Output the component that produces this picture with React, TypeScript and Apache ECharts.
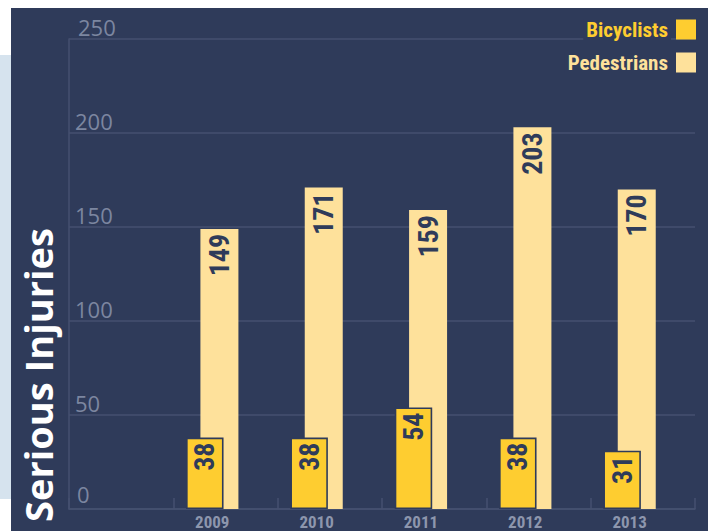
import React, { useEffect, useRef } from "react";
import * as echarts from "echarts";

const categories: string[] = ["", "2009", "2010", "2011", "2012", "2013"];
const bicyclists: (number | null)[] = [null, 38, 38, 54, 38, 31];
const pedestrians: (number | null)[] = [null, 149, 171, 159, 203, 170];
const yMin = 0;
const yMax = 250;
const yInterval = 50;

const NAVY = "#2f3b5a";
const GRIDC = "#465170";
const BIKE = "#fecd30";
const PED = "#fee19b";
const COND = "'Roboto Condensed', 'DejaVu Sans Condensed', sans-serif";

export default function App() {
  const ref = useRef<HTMLDivElement>(null);
  useEffect(() => {
    document.body.style.margin = "0";
    if (!ref.current) return;
    const chart = echarts.init(ref.current, undefined, { renderer: "svg" });
    const barLabel = {
      show: true,
      position: "insideTop",
      distance: 5,
      rotate: 90,
      align: "right",
      verticalAlign: "middle",
      color: NAVY,
      fontFamily: COND,
      fontWeight: "bold",
      fontSize: 28,
    };
    const yl = { color: "#7c86a0", fontFamily: "'Open Sans', sans-serif", fontSize: 22 };
    chart.setOption({
      animation: false,
      backgroundColor: "#ffffff",
      graphic: [
        { type: "rect", z: -10, shape: { x: 0, y: 55, width: 11, height: 444 }, style: { fill: "#d6e3ee" } },
        { type: "rect", z: -10, shape: { x: 11, y: 8, width: 697, height: 523 }, style: { fill: NAVY } },
        {
          type: "text",
          z: 10,
          x: 38,
          y: 375,
          rotation: Math.PI / 2,
          style: {
            text: "Serious Injuries",
            fill: "#ffffff",
            font: "bold 38px 'Open Sans', sans-serif",
            textAlign: "center",
            textVerticalAlign: "middle",
          },
        },
      ],
      legend: {
        orient: "vertical",
        right: 18,
        top: 19,
        padding: 0,
        align: "right",
        itemWidth: 20,
        itemHeight: 20,
        itemGap: 12,
        icon: "rect",
        itemStyle: { borderWidth: 0 },
        textStyle: {
          fontFamily: COND,
          fontWeight: "bold",
          fontSize: 21,
          backgroundColor: NAVY,
          padding: [0, 3, 0, 3],
        },
        data: [
          { name: "Bicyclists", textStyle: { color: BIKE } },
          { name: "Pedestrians", textStyle: { color: PED } },
        ],
      },
      grid: [
        { left: 69, top: 39, width: 626, height: 470 },
        { left: 55.73, top: 39, width: 626, height: 470 },
      ],
      xAxis: [
        {
          type: "category",
          gridIndex: 0,
          data: categories,
          boundaryGap: true,
          axisLine: { show: true, lineStyle: { color: GRIDC, width: 1.5 } },
          axisTick: { show: true, inside: true, length: 11, interval: 0, lineStyle: { color: GRIDC, width: 1.5 } },
          axisLabel: { show: false },
          splitLine: { show: false },
        },
        {
          type: "category",
          gridIndex: 1,
          data: categories,
          boundaryGap: true,
          axisLine: { show: false },
          axisTick: { show: false },
          splitLine: { show: false },
          axisLabel: {
            interval: 0,
            margin: 4,
            color: "#8d96ad",
            fontFamily: COND,
            fontWeight: "bold",
            fontSize: 17,
          },
        },
      ],
      yAxis: [
        {
          type: "value",
          gridIndex: 0,
          min: yMin,
          max: yMax,
          interval: yInterval,
          axisLine: { show: true, lineStyle: { color: GRIDC, width: 1.5 } },
          axisTick: { show: false },
          splitLine: { show: true, lineStyle: { color: GRIDC, width: 1.5 } },
          axisLabel: {
            inside: true,
            margin: 6,
            verticalAlign: "bottom",
            ...yl,
            lineHeight: 22,
            formatter: (v: number) => (v === 0 ? `{z|${v}}` : v === yMax ? `{t|${v}}` : `{n|${v}}`),
            rich: {
              z: { ...yl, padding: [0, 0, 9, 2] },
              t: { ...yl, padding: [0, 0, 3, 3] },
              n: { ...yl, padding: [0, 0, 3, 0] },
            },
          },
        },
        { type: "value", gridIndex: 1, min: yMin, max: yMax, interval: yInterval, show: false, splitLine: { show: false } },
      ],
      series: [
        {
          name: "Bicyclists",
          type: "bar",
          xAxisIndex: 1,
          yAxisIndex: 1,
          data: bicyclists,
          barWidth: 37.5,
          barGap: "-61.7%",
          z: 4,
          itemStyle: { color: BIKE, borderColor: NAVY, borderWidth: 1.6 },
          label: barLabel,
        },
        {
          name: "Pedestrians",
          type: "bar",
          xAxisIndex: 1,
          yAxisIndex: 1,
          data: pedestrians,
          barWidth: 38,
          barGap: "-61.7%",
          z: 3,
          itemStyle: { color: PED },
          label: barLabel,
        },
      ],
    });
    return () => chart.dispose();
  }, []);
  return <div ref={ref} style={{ width: 714, height: 531 }} />;
}
